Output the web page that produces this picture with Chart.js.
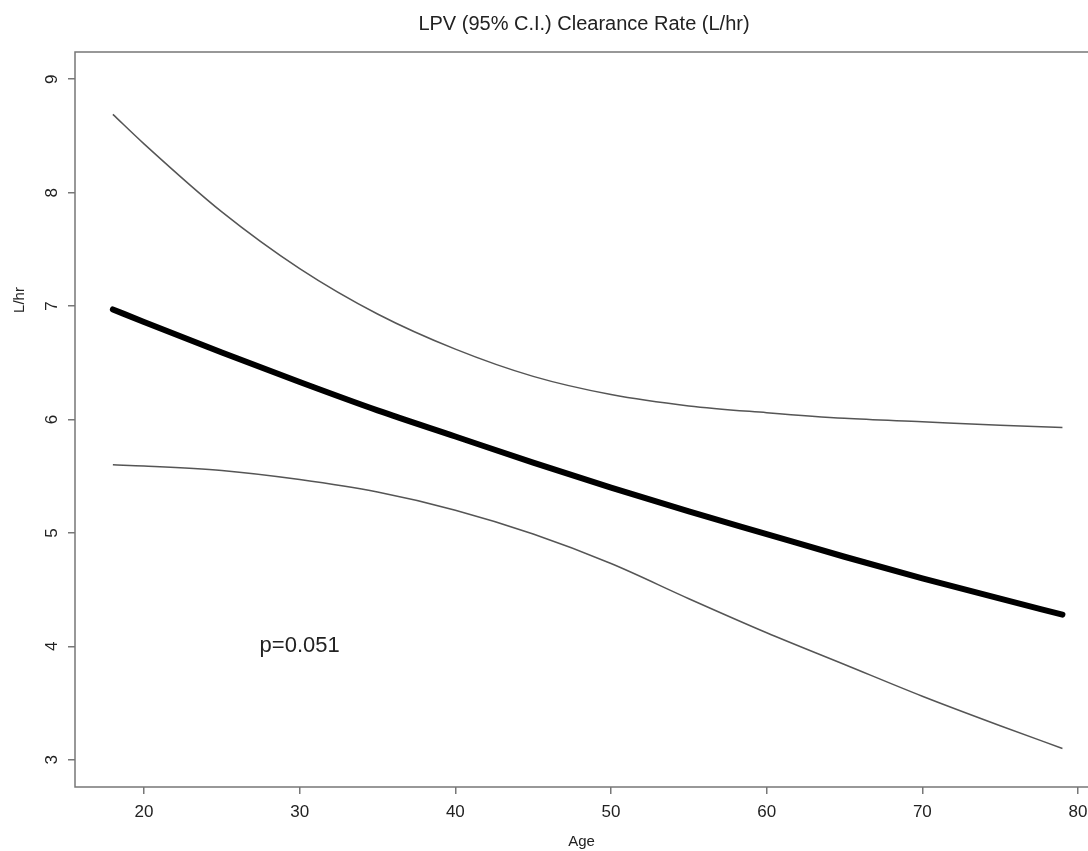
<!DOCTYPE html>
<html>
<head>
<meta charset="utf-8">
<script src="https://cdn.jsdelivr.net/npm/chart.js@4.4.1/dist/chart.umd.min.js"></script>
<style>
  html, body { margin: 0; padding: 0; background: #fff; }
</style>
</head>
<body>
<canvas id="chart" width="1088" height="851"></canvas>
<script>
// values
const ages      = [18, 20, 25, 30, 35, 40, 45, 50, 55, 60, 65, 70, 75, 79];
const clearance = [6.97, 6.86, 6.59, 6.33, 6.08, 5.85, 5.62, 5.40, 5.19, 4.99, 4.79, 4.60, 4.42, 4.28];
const upperCI   = [8.69, 8.43, 7.83, 7.33, 6.93, 6.62, 6.38, 6.22, 6.12, 6.06, 6.01, 5.98, 5.95, 5.93];
const lowerCI   = [5.60, 5.59, 5.55, 5.47, 5.36, 5.20, 4.99, 4.73, 4.42, 4.12, 3.84, 3.56, 3.30, 3.10];
const xTicks = [20, 30, 40, 50, 60, 70, 80];
const yTicks = [3, 4, 5, 6, 7, 8, 9];
const pText = "p=0.051";
const pAge = 30, pValue = 4;

const FONT = '"Liberation Sans", Arial, Helvetica, sans-serif';
const AXIS = '#777';

const toPoints = (vals) => ages.map((a, i) => ({ x: a, y: vals[i] }));

// R-like frame, rotated y labels, titles and the p-value note
const rStyle = {
    id: "rStyle",
    afterDraw(chart) {
        const { ctx, chartArea: a, scales: { x, y } } = chart;
        ctx.save();
        ctx.strokeStyle = AXIS;
        ctx.lineWidth = 1.5;
        ctx.beginPath();
        ctx.moveTo(a.right + 5, a.top);
        ctx.lineTo(a.left, a.top);
        ctx.lineTo(a.left, a.bottom);
        ctx.lineTo(a.right + 5, a.bottom);
        ctx.stroke();

        ctx.fillStyle = '#222';
        ctx.textAlign = 'center';
        ctx.textBaseline = 'middle';
        ctx.font = '17px ' + FONT;
        yTicks.forEach((v) => {
            ctx.save();
            ctx.translate(52, y.getPixelForValue(v));
            ctx.rotate(-Math.PI / 2);
            ctx.fillText(String(v), 0, 0);
            ctx.restore();
        });

        // y axis title
        ctx.font = '15px ' + FONT;
        ctx.save();
        ctx.translate(20, 300);
        ctx.rotate(-Math.PI / 2);
        ctx.fillText("L/hr", 0, 0);
        ctx.restore();

        // main title
        ctx.font = '20px ' + FONT;
        ctx.fillText("LPV (95% C.I.) Clearance Rate (L/hr)", 584, 24);

        ctx.font = '22px ' + FONT;
        ctx.fillText(pText, x.getPixelForValue(pAge), y.getPixelForValue(pValue));
        ctx.restore();
    }
};

new Chart(document.getElementById("chart"), {
    type: "line",
    data: {
        datasets: [
            {
                label: "upper",
                data: toPoints(upperCI),
                borderColor: "#555",
                borderWidth: 1.5,
            },
            {
                label: "lower",
                data: toPoints(lowerCI),
                borderColor: "#555",
                borderWidth: 1.5,
            },
            {
                label: "clearance",
                data: toPoints(clearance),
                borderColor: "#000",
                borderWidth: 6,
                borderCapStyle: "round",
            },
        ],
    },
    options: {
        responsive: false,
        animation: false,
        devicePixelRatio: 1,
        layout: { padding: { top: 52, right: 0, left: 0, bottom: 0 } },
        elements: {
            point: { radius: 0, hoverRadius: 0 },
            line: { cubicInterpolationMode: "monotone", fill: false },
        },
        plugins: {
            legend: { display: false },
            tooltip: { enabled: false },
            title: { display: false },
        },
        scales: {
            x: {
                type: "linear",
                min: 15.567,
                max: 80.642,
                afterBuildTicks: (scale) => { scale.ticks = xTicks.map((v) => ({ value: v })); },
                afterFit: (scale) => {
                    scale.height = 64;
                    scale.paddingLeft = 0;
                    scale.paddingRight = 0;
                },
                grid: { drawOnChartArea: false, drawTicks: true, tickLength: 7, color: AXIS, lineWidth: 1.5 },
                border: { display: false },
                ticks: { color: "#222", padding: 8, font: { size: 17, family: FONT }, maxRotation: 0 },
                title: { display: true, text: "Age", color: "#222", font: { size: 15, family: FONT }, padding: { top: 0, bottom: 0 } },
            },
            y: {
                type: "linear",
                min: 2.76,
                max: 9.24,
                afterBuildTicks: (scale) => { scale.ticks = yTicks.map((v) => ({ value: v })); },
                afterFit: (scale) => {
                    scale.width = 75;
                    scale.paddingTop = 0;
                    scale.paddingBottom = 0;
                },
                grid: { drawOnChartArea: false, drawTicks: true, tickLength: 7, color: AXIS, lineWidth: 1.5 },
                border: { display: false },
                ticks: { display: false },
            },
        },
    },
    plugins: [rStyle],
});
</script>
</body>
</html>
